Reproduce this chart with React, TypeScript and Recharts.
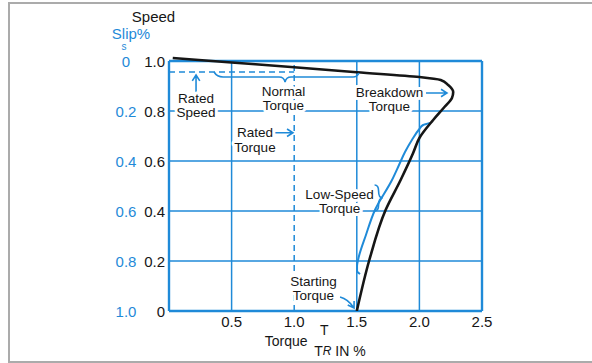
import React from "react";
import { LineChart, Line, XAxis, YAxis, ReferenceLine, ReferenceDot } from "recharts";

const BLUE = "#1f8ad8";
const INK = "#161616";
const FONT = '"Liberation Sans", Arial, sans-serif';

// axes: torque T/TR and speed (slip = 1 - speed)
const torqueTicks = [0.5, 1.0, 1.5, 2.0, 2.5];
const torqueLabels = ["0.5", "1.0", "1.5", "2.0", "2.5"];
const speedTicks = [0, 0.2, 0.4, 0.6, 0.8, 1.0];
const speedLabels = ["0", "0.2", "0.4", "0.6", "0.8", "1.0"];
const slipLabels = ["1.0", "0.8", "0.6", "0.4", "0.2", "0"];

// motor speed-torque curve (black)
const motorTorque = [0.03, 0.5, 1.0, 1.5, 2.0, 2.17, 2.23, 2.27, 2.26, 2.2, 2.11, 2.0, 1.95, 1.85, 1.73, 1.6, 1.5];
const motorSpeed = [1.012, 0.994, 0.975, 0.955, 0.936, 0.924, 0.904, 0.876, 0.852, 0.816, 0.764, 0.692, 0.632, 0.524, 0.404, 0.204, 0];

// low-speed torque curve (blue)
const lowTorque = [2.085, 2.03, 2.0, 1.94, 1.885, 1.837, 1.781, 1.645, 1.573, 1.51, 1.502, 1.502, 1.526];
const lowSpeed = [0.752, 0.744, 0.728, 0.684, 0.636, 0.584, 0.524, 0.404, 0.304, 0.204, 0.18, 0.16, 0.148];

const ratedSpeed = 0.956;
const ratedTorque = 1.0;

const motorData = motorTorque.map((t, i) => ({ t, s: motorSpeed[i] }));
const lowData = lowTorque.map((t, i) => ({ t, s: lowSpeed[i] }));

const textStyle = { fontFamily: FONT, fontSize: 13.5, fill: INK };
const halo = { stroke: "#fff", strokeWidth: 6, strokeLinejoin: "round" as const, paintOrder: "stroke" as const };

function head(x1: number, y1: number, x2: number, y2: number) {
  const a = Math.atan2(y2 - y1, x2 - x1);
  const l = 7;
  const b1 = a + Math.PI * 0.82;
  const b2 = a - Math.PI * 0.82;
  return `M${x2 + l * Math.cos(b1)},${y2 + l * Math.sin(b1)} L${x2},${y2} L${x2 + l * Math.cos(b2)},${y2 + l * Math.sin(b2)}`;
}

// small helper: a reference dot whose shape draws at the scaled point
function mark(key: string, x: number, y: number, draw: (cx: number, cy: number) => React.ReactNode) {
  return (
    <ReferenceDot
      key={key}
      x={x}
      y={y}
      r={1}
      ifOverflow="visible"
      shape={(p: any) => <g>{draw(p.cx, p.cy)}</g>}
    />
  );
}

function note(key: string, x: number, y: number, lines: string[], gap = 14) {
  return mark(key, x, y, (cx, cy) =>
    lines.map((ln, i) => (
      <text
        key={i}
        x={cx}
        y={cy + (i - (lines.length - 1) / 2) * gap}
        textAnchor="middle"
        dominantBaseline="central"
        {...textStyle}
        {...halo}
      >
        {ln}
      </text>
    ))
  );
}

function arrow(key: string, x: number, y: number, dx: number, dy: number) {
  return mark(key, x, y, (cx, cy) => (
    <path
      d={`M${cx + dx},${cy + dy} L${cx},${cy} ${head(cx + dx, cy + dy, cx, cy)}`}
      fill="none"
      stroke={BLUE}
      strokeWidth={1.6}
    />
  ));
}

const SpeedTick = (props: any) => {
  const { x, y, payload } = props;
  const i = speedTicks.indexOf(payload.value);
  return (
    <g fontFamily={FONT} fontSize={15}>
      <text x={x - 39} y={y} textAnchor="middle" dominantBaseline="central" fill={BLUE}>
        {slipLabels[i]}
      </text>
      <text x={x} y={y} textAnchor="end" dominantBaseline="central" fill={INK}>
        {speedLabels[i]}
      </text>
    </g>
  );
};

const TorqueTick = (props: any) => {
  const { x, y, payload } = props;
  const i = torqueTicks.indexOf(payload.value);
  return (
    <text x={x} y={y} dy="0.71em" textAnchor="middle" fontFamily={FONT} fontSize={15} fill={INK}>
      {torqueLabels[i]}
    </text>
  );
};

export default function App() {
  return (
    <div style={{ position: "absolute", left: 0, top: 0, width: 592, height: 363, background: "#fff", overflow: "hidden" }}>
      <div
        style={{
          position: "absolute",
          left: 8,
          top: 2,
          width: 640,
          height: 361,
          boxSizing: "border-box",
          border: "2px solid #ababab",
        }}
      />
      <LineChart width={592} height={363} margin={{ top: 56, right: 110, bottom: 22, left: 109 }}>
        <XAxis
          type="number"
          dataKey="t"
          domain={[0, 2.5]}
          ticks={torqueTicks}
          allowDataOverflow
          height={30}
          axisLine={false}
          tickLine={false}
          tickSize={0}
          tickMargin={5}
          tick={<TorqueTick />}
        />
        <YAxis
          type="number"
          dataKey="s"
          domain={[0, 1.02]}
          ticks={speedTicks}
          allowDataOverflow
          width={60}
          axisLine={false}
          tickLine={false}
          tickSize={0}
          tickMargin={4}
          tick={<SpeedTick />}
        />

        {[0.2, 0.4, 0.6, 0.8].map((s) => (
          <ReferenceLine key={"h" + s} segment={[{ x: 0, y: s }, { x: 2.5, y: s }]} stroke={BLUE} strokeWidth={1.5} />
        ))}
        {[0.5, 1.5, 2.0].map((t) => (
          <ReferenceLine key={"v" + t} segment={[{ x: t, y: 0 }, { x: t, y: 1 }]} stroke={BLUE} strokeWidth={1.5} />
        ))}
        <ReferenceLine segment={[{ x: ratedTorque, y: 0 }, { x: ratedTorque, y: 1 }]} stroke={BLUE} strokeWidth={1.5} strokeDasharray="6 4" />
        <ReferenceLine segment={[{ x: 0, y: ratedSpeed }, { x: ratedTorque, y: ratedSpeed }]} stroke={BLUE} strokeWidth={1.5} strokeDasharray="6 4" />
        <ReferenceLine segment={[{ x: 0, y: 0 }, { x: 0, y: 1 }]} stroke={BLUE} strokeWidth={2.4} />
        <ReferenceLine segment={[{ x: 0, y: 0 }, { x: 2.5, y: 0 }]} stroke={BLUE} strokeWidth={2.4} />
        <ReferenceLine segment={[{ x: 0, y: 1 }, { x: 2.5, y: 1 }]} stroke={BLUE} strokeWidth={2.4} />
        <ReferenceLine segment={[{ x: 2.5, y: 0 }, { x: 2.5, y: 1 }]} stroke={BLUE} strokeWidth={2.4} />

        <Line data={lowData} dataKey="s" type="monotoneY" stroke={BLUE} strokeWidth={2} dot={false} isAnimationActive={false} />
        <Line data={motorData} dataKey="s" type="monotoneY" stroke={INK} strokeWidth={2.6} dot={false} isAnimationActive={false} />

        {/* normal torque brace under the rated speed line */}
        {mark("brace-normal", 0.927, 0.916, (cx, cy) => (
          <path
            d={`M${cx - 71},${cy - 10} Q${cx - 68},${cy - 5} ${cx - 62},${cy - 5} L${cx - 6},${cy - 5} Q${cx - 1},${cy - 5} ${cx},${cy} Q${cx + 1},${cy - 5} ${cx + 6},${cy - 5} L${cx + 68},${cy - 5} Q${cx + 72},${cy - 5} ${cx + 74},${cy - 9}`}
            fill="none"
            stroke={BLUE}
            strokeWidth={1.6}
          />
        ))}
        {/* low speed torque brace */}
        {mark("brace-low", 1.69, 0.452, (cx, cy) => (
          <path
            d={`M${cx - 6},${cy - 13} Q${cx - 2},${cy - 13} ${cx - 2},${cy - 7} Q${cx - 2},${cy} ${cx + 2},${cy} Q${cx - 2},${cy} ${cx - 2},${cy + 7} Q${cx - 2},${cy + 13} ${cx - 6},${cy + 13}`}
            fill="none"
            stroke={BLUE}
            strokeWidth={1.6}
          />
        ))}

        {arrow("a-speed", 0.216, 0.944, 0, 17)}
        {arrow("a-break", 2.22, 0.872, -21, 0)}
        {arrow("a-rated", 0.99, 0.713, -19, 0)}
        {mark("a-start", 1.478, 0.012, (cx, cy) => (
          <path
            d={`M${cx - 14},${cy - 11} Q${cx - 6},${cy - 9} ${cx},${cy} ${head(cx - 5, cy - 8, cx, cy)}`}
            fill="none"
            stroke={BLUE}
            strokeWidth={1.6}
          />
        ))}

        {note("n-speed", 0.216, 0.822, ["Rated", "Speed"])}
        {note("n-normal", 0.914, 0.852, ["Normal", "Torque"])}
        {note("n-break", 1.761, 0.848, ["Breakdown", "Torque"])}
        {note("n-rated", 0.687, 0.684, ["Rated", "Torque"], 15)}
        {note("n-low", 1.362, 0.438, ["Low-Speed", "Torque"])}
        {note("n-start", 1.154, 0.09, ["Starting", "Torque"])}

        {/* axis titles */}
        {mark("t-speed", 0, 1, (cx, cy) => (
          <g fontFamily={FONT} dominantBaseline="central">
            <text x={cx - 15.5} y={cy - 45} textAnchor="middle" fontSize={15} fill={INK}>Speed</text>
            <text x={cx - 38} y={cy - 28} textAnchor="middle" fontSize={15} fill={BLUE}>Slip%</text>
            <text x={cx - 45} y={cy - 15} textAnchor="middle" fontSize={10} fill={BLUE}>s</text>
          </g>
        ))}
        {mark("t-torque", 1.0, 0, (cx, cy) => (
          <g fontFamily={FONT} fontSize={14} fill={INK} dominantBaseline="central">
            <text x={cx - 8} y={cy + 30} textAnchor="middle">Torque</text>
            <text x={cx + 30} y={cy + 19} textAnchor="middle">T</text>
            <text x={cx + 20} y={cy + 40} textAnchor="start">
              T<tspan fontStyle="italic" fontSize={12}>R</tspan> IN %
            </text>
          </g>
        ))}
      </LineChart>
    </div>
  );
}
